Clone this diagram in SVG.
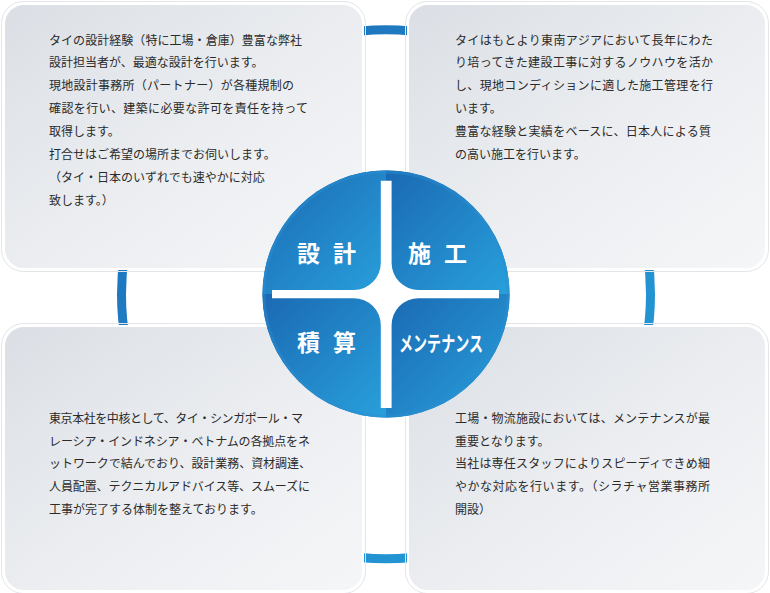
<svg xmlns="http://www.w3.org/2000/svg" width="770" height="593" viewBox="0 0 770 593">
  <defs>
    <linearGradient id="panelGrad" x1="0" y1="0" x2="1" y2="1">
      <stop offset="0" stop-color="#dbdfe5"/>
      <stop offset="0.55" stop-color="#eceef1"/>
      <stop offset="1" stop-color="#f5f6f8"/>
    </linearGradient>
    <linearGradient id="ringGrad" x1="0" y1="0" x2="1" y2="1">
      <stop offset="0" stop-color="#1c6cb8"/>
      <stop offset="1" stop-color="#25a0da"/>
    </linearGradient>
    <linearGradient id="quadGrad" x1="0" y1="0" x2="1" y2="1">
      <stop offset="0" stop-color="#1b69b3"/>
      <stop offset="1" stop-color="#28a0db"/>
    </linearGradient>
    <linearGradient id="hubGrad" x1="0" y1="0" x2="1" y2="1">
      <stop offset="0" stop-color="#1d6fb8"/>
      <stop offset="1" stop-color="#259bd8"/>
    </linearGradient>
    <style>
      .panel-outer { fill: none; stroke: #e3e5e9; stroke-width: 1; }
      .panel { fill: url(#panelGrad); stroke: #ffffff; stroke-width: 2; }
      .body { font-family: "Noto Sans CJK JP", "Noto Sans", sans-serif; font-size: 12px; fill: #2a2a2a; }
      .label { font-family: "Noto Sans CJK JP", "Noto Sans", sans-serif; font-size: 23px; font-weight: bold; fill: #ffffff; letter-spacing: 13px; }
      .label-k { font-family: "Noto Sans CJK JP", "Noto Sans", sans-serif; font-size: 21px; font-weight: bold; fill: #ffffff; }
      .quad { fill: url(#quadGrad); }
    </style>
  </defs>

  <rect width="770" height="593" fill="#ffffff"/>

  <g id="connectors">
    <circle cx="386" cy="294.3" r="264.5" fill="none" stroke="url(#ringGrad)" stroke-width="9"/>
  </g>

  <g id="panel-design">
    <rect class="panel-outer" x="1.5" y="1.5" width="364" height="270" rx="22"/>
    <rect class="panel" x="4" y="4" width="359" height="265" rx="20"/>
    <text class="body" x="49" y="44.5" textLength="253">タイの設計経験（特に工場・倉庫）豊富な弊社</text>
    <text class="body" x="49" y="67.4">設計担当者が、最適な設計を行います。</text>
    <text class="body" x="49" y="90.3" textLength="245">現地設計事務所（パートナー）が各種規制の</text>
    <text class="body" x="49" y="113.2" textLength="259">確認を行い、建築に必要な許可を責任を持って</text>
    <text class="body" x="49" y="136.1">取得します。</text>
    <text class="body" x="49" y="159">打合せはご希望の場所までお伺いします。</text>
    <text class="body" x="49" y="181.9">（タイ・日本のいずれでも速やかに対応</text>
    <text class="body" x="49" y="204.8">致します。）</text>
  </g>

  <g id="panel-construction">
    <rect class="panel-outer" x="405.5" y="1.5" width="363" height="270" rx="22"/>
    <rect class="panel" x="408" y="4" width="358" height="265" rx="20"/>
    <text class="body" x="455" y="44.5" textLength="258">タイはもとより東南アジアにおいて長年にわた</text>
    <text class="body" x="455" y="67.4" textLength="258">り培ってきた建設工事に対するノウハウを活か</text>
    <text class="body" x="455" y="90.3" textLength="258">し、現地コンディションに適した施工管理を行</text>
    <text class="body" x="455" y="113.2">います。</text>
    <text class="body" x="455" y="136.1" textLength="256">豊富な経験と実績をベースに、日本人による質</text>
    <text class="body" x="455" y="159">の高い施工を行います。</text>
  </g>

  <g id="panel-estimate">
    <rect class="panel-outer" x="1.5" y="323.5" width="364" height="270" rx="22"/>
    <rect class="panel" x="4" y="326" width="359" height="265" rx="20"/>
    <text class="body" x="49" y="422.6" textLength="254">東京本社を中核として、タイ・シンガポール・マ</text>
    <text class="body" x="49" y="445.5" textLength="261">レーシア・インドネシア・ベトナムの各拠点をネ</text>
    <text class="body" x="49" y="468.4" textLength="262">ットワークで結んでおり、設計業務、資材調達、</text>
    <text class="body" x="49" y="491.3" textLength="261">人員配置、テクニカルアドバイス等、スムーズに</text>
    <text class="body" x="49" y="514.2">工事が完了する体制を整えております。</text>
  </g>

  <g id="panel-maintenance">
    <rect class="panel-outer" x="405.5" y="323.5" width="363" height="270" rx="22"/>
    <rect class="panel" x="408" y="326" width="358" height="265" rx="20"/>
    <text class="body" x="455" y="422.6" textLength="255">工場・物流施設においては、メンテナンスが最</text>
    <text class="body" x="455" y="445.5">重要となります。</text>
    <text class="body" x="455" y="468.4" textLength="255">当社は専任スタッフによりスピーディできめ細</text>
    <text class="body" x="455" y="491.3" textLength="255">やかな対応を行います。（シラチャ営業事務所</text>
    <text class="body" x="455" y="514.2">開設）</text>
  </g>

  <g id="center-hub">
    <circle cx="386" cy="294" r="123.5" fill="url(#hubGrad)"/>
    <path class="quad" d="M262.5,294 A123.5,123.5 0 0 1 386,170.5 L386,294 Z"/>
    <path class="quad" d="M386,170.5 A123.5,123.5 0 0 1 509.5,294 L386,294 Z"/>
    <path class="quad" d="M262.5,294 L386,294 L386,417.5 A123.5,123.5 0 0 1 262.5,294 Z"/>
    <path class="quad" d="M386,294 L509.5,294 A123.5,123.5 0 0 1 386,417.5 Z"/>
    <circle cx="386" cy="294" r="122" fill="none" stroke="#2c8fd0" stroke-width="3" opacity="0.45"/>
    <path fill="#ffffff" d="M380.8,180.8 L391.6,180.8 L391.6,263 A27,27 0 0 0 418.6,290 L499,290 L499,298.2 L418.6,298.2 A27,27 0 0 0 391.6,325.2 L391.6,408 L380.8,408 L380.8,325.2 A27,27 0 0 0 353.8,298.2 L272,298.2 L272,290 L353.8,290 A27,27 0 0 0 380.8,263 Z"/>
    <text class="label" x="297" y="261.5">設計</text>
    <text class="label" x="408" y="261.5">施工</text>
    <text class="label" x="297" y="350.5">積算</text>
    <text class="label-k" x="399" y="351" textLength="84" lengthAdjust="spacingAndGlyphs">メンテナンス</text>
  </g>
</svg>
